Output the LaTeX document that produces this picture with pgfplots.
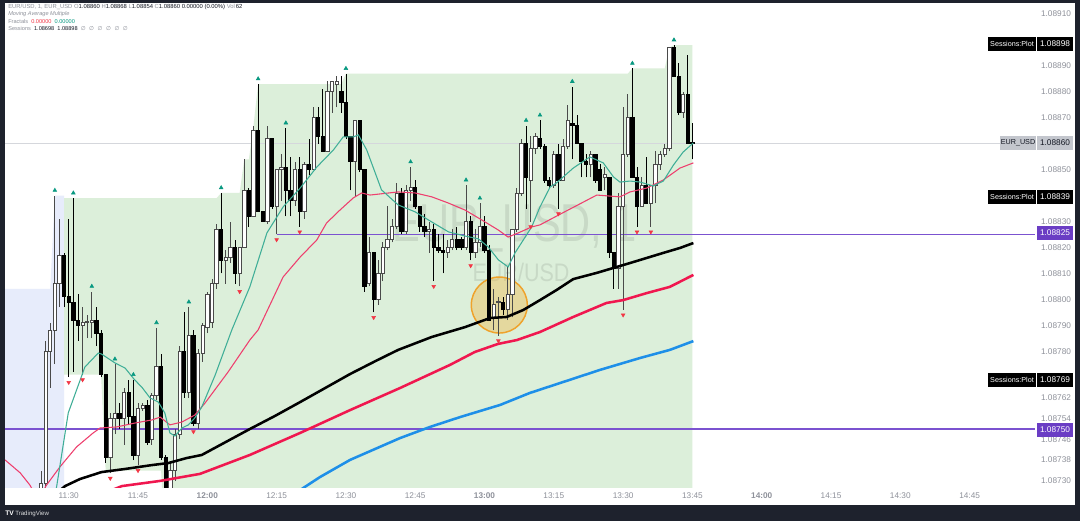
\documentclass[border=0pt]{standalone}
\usepackage{pgfplots}
\pgfplotsset{compat=1.18}
\usepackage{pgfplotstable}
\usepackage{fontspec}
\setmainfont{Liberation Sans}
\newfontfamily\dejavu{DejaVu Sans}
\definecolor{frame}{HTML}{1E222D}
\definecolor{sessgreen}{HTML}{DCEFDA}
\definecolor{sesslav}{HTML}{E7ECFB}
\definecolor{tealma}{HTML}{3FAE97}
\definecolor{pinkma}{HTML}{EE3F6E}
\definecolor{redma}{HTML}{F0174F}
\definecolor{bluema}{HTML}{1E8FE8}
\definecolor{purpline}{HTML}{7B52D0}
\definecolor{purpbox}{HTML}{6A3DC4}
\definecolor{fracred}{HTML}{F23645}
\definecolor{fracgreen}{HTML}{089981}
\definecolor{axtext}{HTML}{8E919A}
\definecolor{hdrgray}{HTML}{8E919A}
\definecolor{dk}{HTML}{131722}
\definecolor{upedge}{HTML}{4A4A4A}
\definecolor{circfill}{HTML}{F2B33D}
\definecolor{circedge}{HTML}{EFA22B}
\definecolor{pricegray}{HTML}{C3C6CD}

\pgfplotstableread{
m O H L C
24 727 734 726 729
25 729 784 727 780
26 780 791 766 788
27 788 840 775 806
28 806 831 797 817
29 817 818 797 801
30 801 831 770 799
31 799 839 772 792
32 792 802 784 790
33 790 797 771 791
34 791 794 785 791.3
35 791 803 785 792
36 792 797 782 787
37 787 788 770 771
38 771 771 737 739
39 739 756 733 754
40 754 775 748 756
41 756 760 750 754
42 754 766 744 764
43 764 769 752 755
44 755 769 738 740
45 740 760 736 758
46 758 760 757 759
47 759 761 744 745
48 746 764 744 763
49 763 789 761 774
50 774 779 738 739
51 739 740 720 724
52 724 737 720 734
53 734 750 730 748
54 748 782 746 780
55 780 795 762 764
56 764 797 762 786
57 786 788 751 752
58 752 781 750 779
59 779 791 776 790
60 789 803 787 802
61 791 808 789 806
62 806 829 804 827
63 827 841 810 815
64 815 819 806 816
65 816 830 814 820
66 820 823 806 810
67 810 820 805 820
68 820 854 820 842
69 842 843 828 832
70 832 867 832 865
71 865 883 834 834
72 834 834 830 830
73 830 867 829 862
74 862 862 835 836
75 836 850 825 850
76 850 856 838 851
77 851 866 832 842
78 842 855 832 838
79 838 853 836 850
80 850 855 828 834
81 834 853 831 852
82 852 862 848 850
83 850 874 850 870
84 870 874 860 863
85 863 881 857 857
86 857 884 857 880
87 880 884 872 884
88 883 886 874 884
89 880 886 872 876
90 876 887 862 863
91 863 863 842 853
92 853 869 840 869
93 869 869 849 850
94 850 850 803 805
95 806 824 805 818
96 818 818 795 800
97 800 815 798 810
98 810 822 807 820
99 820 836 819 823
100 823 831 822 828
101 828 845 827 841
102 841 843 825 826
103 826 844 825 842
104 842 851 838 843
105 843 846 835 836
106 836 836 826 828
107 828 833 824 826
108 826 830 818 827
109 827 829 807 820
110 820 825 818 819
111 819 825 810 818
112 818 823 816 820
113 820 827 819 823
114 823 828 819 820
115 823 824 819 820
116 820 844 819 830
117 830 832 815 818
118 818 827 816 822
119 822 837 820 828
120 828 832 818 819
121 819 821 792 792
122 793 804 788 798
123 799 801 786 799.3
124 799 801 794 796
125 796 813 792 802
126 802 827 793 827
127 827 843 826 841
128 841 862 840 860
129 860 867 835 847
130 846 863 830 858
131 858 864 856 863
132 862 869 858 859
133 859 860 845 846
134 846 847 843 844
135 844 857 843 856
136 856 860 835 846
137 846 862 846 859
138 859 875 858 869
139 868 882 854 867
140 867 871 860 860
141 860 860 847 853
142 853 856 847 852
143 852 857 847 856
144 856 856 845 846
145 850 852 842 842
146 847 851 842 848
147 847 847 816 818
148 818 818 804 812
149 812 841 804 836
150 836 874 796 856
151 856 879 855 870
152 870 889 847 847
153 847 851 828 836
154 836 847 836 844
155 844 855 837 837
156 837 844 828 844
157 844 857 837 852
158 852 857 850 856
159 856 860 855 858
160 858 897 857 897
161 897 898 886 886
162 886 891 871 872
163 872 880 870 879
164 879 894 860 860
165 860.4 868 854 860
}\candles

\begin{document}
\begin{tikzpicture}
\begin{scope}[x=0.75pt,y=0.75pt]
\path[use as bounding box] (0,0) rectangle (1080,521);
\fill[frame] (0,0) rectangle (1080,521);
\fill[white] (5,16) rectangle (1075,518);
\end{scope}
\begin{axis}[
  at={(3.75pt,25.5pt)}, anchor=south west,
  width=772.5pt, height=363pt, scale only axis,
  xmin=16.21, xmax=239.15, ymin=727.65, ymax=914.24,
  axis line style={draw=none},
  major tick length=0pt,
  xtick={30,45,...,225},
  xticklabels={11:30,11:45,\textbf{12:00},12:15,12:30,12:45,\textbf{13:00},13:15,13:30,13:45,\textbf{14:00},14:15,14:30,14:45},
  ytick={730,738,746,754,762,780,790,800,810,820,830,850,870,880,890,910},
  yticklabels={1.08730,1.08738,1.08746,1.08754,1.08762,1.08780,1.08790,1.08800,1.08810,1.08820,1.08830,1.08850,1.08870,1.08880,1.08890,1.08910},
  yticklabel pos=right,
  ticklabel style={font=\fontsize{6.2}{7}\selectfont, text=axtext},
  yticklabel style={anchor=center, xshift=15.75pt},
  xticklabel style={anchor=center, yshift=-6.4pt},
]
% session boxes
\addplot[fill=sesslav, draw=none, forget plot] coordinates {(16.21,804) (26,804) (27,840) (29,840) (29,700) (16.21,700)} -- cycle;
\addplot[fill=sessgreen, draw=none, forget plot] coordinates {(29,839) (62,839) (63,841) (67,841) (68,854) (69,854) (70,867) (71,883) (89,883) (90,887) (151,887) (152,889) (159,889) (160,897) (161,898) (165,898) (165,700) (51,700) (50,734) (38,734) (37,771) (29,771)} -- cycle;
% current price line
\addplot[pricegray!70, line width=0.5pt, forget plot] coordinates {(16.21,860) (239.15,860)};
% watermark
\node[text=black, opacity=0.09, xscale=0.78, font=\fontsize{40}{40}\selectfont] at (axis cs:126.5,827.5) {EUR\_USD, 1};
\node[text=black, opacity=0.09, xscale=0.85, font=\fontsize{19}{19}\selectfont] at (axis cs:127.9,810.5) {EUR/USD};
% horizontal levels
\addplot[purpline, line width=0.85pt, forget plot] coordinates {(75,825) (239.15,825)};
\addplot[purpline, line width=0.85pt, forget plot] coordinates {(16.21,750) (239.15,750)};
% circle
\fill[circfill, fill opacity=0.38] (axis cs:123.2,797.8) circle[radius=21pt];
\draw[circedge, line width=1.1pt] (axis cs:123.2,797.8) circle[radius=21pt];
% candles
\pgfplotstablegetrowsof{\candles}
\pgfmathtruncatemacro\nrows{\pgfplotsretval-1}
\pgfplotsforeachungrouped \i in {0,...,\nrows}{%
  \pgfplotstablegetelem{\i}{m}\of\candles\let\cm\pgfplotsretval
  \pgfplotstablegetelem{\i}{O}\of\candles\let\co\pgfplotsretval
  \pgfplotstablegetelem{\i}{H}\of\candles\let\ch\pgfplotsretval
  \pgfplotstablegetelem{\i}{L}\of\candles\let\cl\pgfplotsretval
  \pgfplotstablegetelem{\i}{C}\of\candles\let\cc\pgfplotsretval
  \pgfmathsetmacro\xa{\cm-0.36}%
  \pgfmathsetmacro\xb{\cm+0.36}%
  \pgfmathtruncatemacro\isdown{\cc<\co}%
  \ifnum\isdown=1 \def\bodyfill{black}\def\bodydraw{black}\else\def\bodyfill{white}\def\bodydraw{upedge}\fi
  \edef\temp{%
    \noexpand\addplot[draw=\bodydraw, line width=0.6pt, forget plot] coordinates {(\cm,\cl) (\cm,\ch)};%
    \noexpand\addplot[draw=\bodydraw, fill=\bodyfill, line width=0.6pt, forget plot] coordinates {(\xa,\co) (\xb,\co) (\xb,\cc) (\xa,\cc)} -- cycle;%
  }%
  \temp
}
% moving averages
\addplot[bluema, line width=1.9pt, forget plot] coordinates {(80.1,726.5) (84.4,731.5) (90.9,738.1) (101.7,746.5) (108.2,750.8) (114.7,754.6) (123.4,759.3) (129.8,763.9) (136.3,767.7) (145.0,772.8) (153.7,777.4) (160.1,780.5) (165.2,783.9)};
\addplot[redma, line width=1.9pt, forget plot] coordinates {(39.4,726.5) (41.5,728.0) (49.8,730.0) (58.4,732.7) (69.2,740.0) (80.1,748.5) (90.9,757.3) (101.7,765.8) (112.5,774.7) (117.9,779.7) (122.9,782.8) (127.0,784.3) (132.0,787.4) (139.2,793.2) (146.4,798.6) (150.0,799.7) (155.1,802.4) (160.1,804.8) (165.2,809.4)};
\addplot[black, line width=1.9pt, forget plot] coordinates {(27.7,725.7) (29.2,728.0) (32.4,730.7) (37.1,733.4) (42.2,734.6) (48.0,736.1) (51.6,736.9) (55.5,738.8) (58.8,740.0) (64.0,745.0) (69.2,750.0) (74.6,755.0) (80.1,760.4) (85.5,765.8) (90.9,771.2) (96.4,776.2) (101.3,780.5) (108.6,785.5) (115.8,789.3) (121.2,792.8) (124.8,793.2) (128.4,795.9) (132.0,799.7) (135.6,803.6) (139.2,807.8) (144.3,810.2) (151.5,814.0) (158.7,817.9) (162.3,819.8) (165.2,821.7)};
\addplot[pinkma, line width=0.8pt, forget plot] coordinates {(16.21,738.1) (19.5,733.1) (21.6,728.4) (23.4,722.6) (25.2,728.4) (28.1,735.4) (31.7,743.1) (35.3,748.5) (36.8,750.4) (40.4,750.8) (44.3,752.3) (48.0,753.5) (49.8,754.6) (51.9,751.6) (54.5,752.7) (57.3,755.4) (59.5,760.0) (64.5,772.0) (69.2,784.3) (71.0,788.2) (76.4,808.6) (80.1,816.3) (83.7,822.9) (85.8,829.4) (88.7,834.4) (91.6,839.1) (93.4,841.0) (95.2,840.2) (101.3,841.4) (105.0,841.0) (108.6,839.5) (112.2,837.1) (115.8,834.4) (119.4,830.6) (123.0,826.7) (125.1,824.0) (127.3,825.6) (130.2,827.9) (132.0,828.7) (137.1,833.5) (144.3,840.2) (149.3,839.5) (151.5,841.4) (155.1,842.9) (158.7,846.0) (162.3,850.6) (165.2,852.6)};
\addplot[tealma, line width=0.8pt, forget plot] coordinates {(27.2,725.7) (29.9,756.2) (33.5,773.9) (36.4,779.3) (37.1,778.9) (40.0,775.5) (42.2,773.5) (44.3,768.9) (45.8,766.2) (47.6,762.0) (49.4,760.4) (50.8,756.2) (51.9,748.5) (53.0,747.3) (54.5,750.4) (55.9,751.6) (57.3,754.3) (58.8,758.5) (61.7,770.8) (65.3,788.2) (69.2,804.8) (72.9,825.6) (76.4,835.6) (80.1,842.9) (83.7,851.0) (87.3,857.6) (89.4,862.6) (91.6,862.6) (92.7,863.4) (94.5,857.6) (97.7,842.2) (101.3,836.4) (105.0,833.7) (108.6,829.8) (112.2,826.0) (115.8,824.4) (118.7,823.3) (120.8,820.2) (123.0,815.2) (125.1,812.5) (126.6,817.9) (128.4,822.9) (130.2,827.9) (132.0,835.6) (134.2,843.3) (135.6,844.9) (139.2,850.6) (142.8,854.9) (145.7,852.6) (147.9,847.2) (149.3,845.2) (151.5,845.6) (153.7,845.2) (156.5,843.7) (158.7,845.6) (160.9,851.8) (163.0,856.8) (165.2,860.3)};
% fractals
\addplot[only marks, mark=triangle*, mark size=1.6pt, mark options={draw=fracgreen, fill=fracgreen}, forget plot] coordinates {(27,842) (31,841) (35,805) (40,777) (44,771) (49,791) (56,799) (63,843) (71,885) (77,868) (90,889) (104,853) (116,846) (119,839) (129,869) (132,871) (139,884) (152,891) (161,900)};
\addplot[only marks, mark=triangle*, mark size=1.6pt, mark options={draw=fracred, fill=fracred, rotate=180}, forget plot] coordinates {(30,768) (33,769) (39,731) (45,734) (57,749) (67,803) (75,823) (80,826) (96,793) (109,805) (117,813) (123,784) (130,828) (136,833) (150,794) (153,826) (156,826)};
\end{axis}
\begin{scope}[x=0.75pt,y=0.75pt]
% Sessions:Plot 1.08898 (y=44)
\fill[black] (988,470) rectangle (1036,484);
\node[white, font=\fontsize{5.4}{6}\selectfont] at (1012,477) {Sessions:Plot};
\fill[black] (1037,470) rectangle (1073,484);
\node[white, font=\fontsize{6.2}{7}\selectfont] at (1055,477) {1.08898};
% EUR_USD 1.08860 (y=143)
\fill[pricegray] (1000,371) rectangle (1036,385);
\node[dk, font=\fontsize{5.4}{6}\selectfont] at (1018,378) {EUR\_USD};
\fill[pricegray] (1037,371) rectangle (1073,385);
\node[dk, font=\fontsize{6.2}{7}\selectfont] at (1055,378) {1.08860};
% Sessions:Plot 1.08839 (y=197)
\fill[black] (988,317) rectangle (1036,331);
\node[white, font=\fontsize{5.4}{6}\selectfont] at (1012,324) {Sessions:Plot};
\fill[black] (1037,317) rectangle (1073,331);
\node[white, font=\fontsize{6.2}{7}\selectfont] at (1055,324) {1.08839};
% 1.08825 purple (y=233)
\fill[purpbox] (1037,281) rectangle (1073,295);
\node[white, font=\fontsize{6.2}{7}\selectfont] at (1055,288) {1.08825};
% Sessions:Plot 1.08769 (y=380)
\fill[black] (988,134) rectangle (1036,148);
\node[white, font=\fontsize{5.4}{6}\selectfont] at (1012,141) {Sessions:Plot};
\fill[black] (1037,134) rectangle (1073,148);
\node[white, font=\fontsize{6.2}{7}\selectfont] at (1055,141) {1.08769};
% 1.08750 purple (y=430)
\fill[purpbox] (1037,84) rectangle (1073,98);
\node[white, font=\fontsize{6.2}{7}\selectfont] at (1055,91) {1.08750};
% header
\node[anchor=base west, inner sep=0pt, font=\fontsize{4.4}{5}\selectfont] at (8,512.5) {\textcolor{hdrgray}{EUR/USD, 1, EUR\_USD}\ \textcolor{hdrgray}{O}\textcolor{dk}{1.08860}\ \textcolor{hdrgray}{H}\textcolor{dk}{1.08868}\ \textcolor{hdrgray}{L}\textcolor{dk}{1.08854}\ \textcolor{hdrgray}{C}\textcolor{dk}{1.08860}\ \textcolor{dk}{0.00000 (0.00\%)}\ \textcolor{hdrgray}{Vol}\,\textcolor{dk}{62}};
\node[anchor=base west, inner sep=0pt, font=\fontsize{4.2}{5}\selectfont\itshape] at (8,505) {\textcolor{hdrgray}{Moving Average Multiple}};
\node[anchor=base west, inner sep=0pt, font=\fontsize{4.2}{5}\selectfont] at (8,497.6) {\textcolor{hdrgray}{Fractals}\ \ \textcolor{fracred}{0.00000}\ \ \textcolor{fracgreen}{0.00000}};
\node[anchor=base west, inner sep=0pt, font=\fontsize{4.2}{5}\selectfont] at (8,490.3) {\textcolor{hdrgray}{Sessions}\ \ \textcolor{dk}{1.08698}\ \ \textcolor{dk}{1.08898}\ \ \textcolor{hdrgray}{\dejavu ∅\ \ ∅\ \ ∅\ \ ∅\ \ ∅\ \ ∅}};
% logo
\node[anchor=base west, inner sep=0pt, text=white, font=\fontsize{5}{6}\selectfont\bfseries] at (5,6) {TV};
\node[anchor=base west, inner sep=0pt, text=white!85!frame, font=\fontsize{4.6}{6}\selectfont] at (15,6) {TradingView};
\end{scope}
\end{tikzpicture}
\end{document}
